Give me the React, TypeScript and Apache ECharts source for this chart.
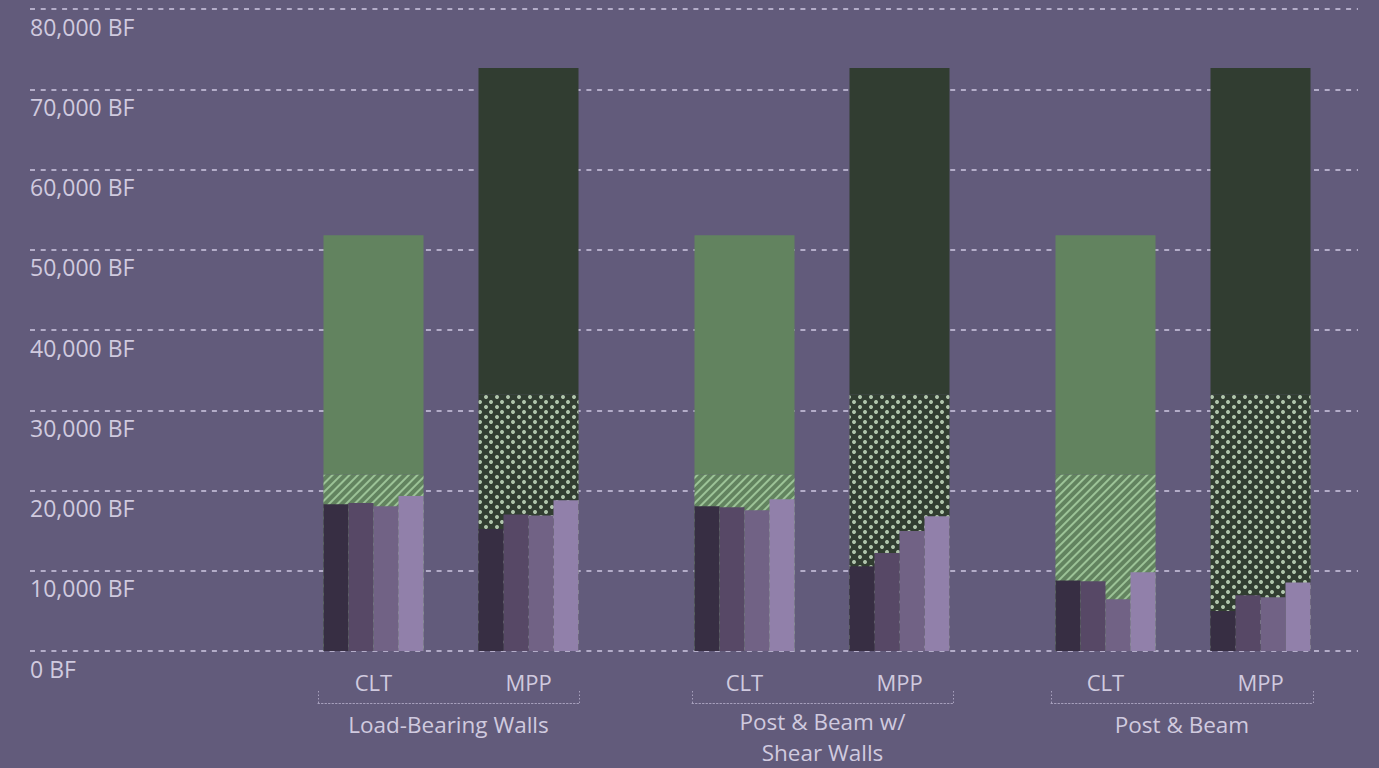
import React, { useEffect, useRef } from "react";
import * as echarts from "echarts";

// ---------- data ----------
const groupNames = ["Load-Bearing Walls", "Post & Beam w/\nShear Walls", "Post & Beam"];
const systems = ["CLT", "MPP"];
const yTicks = [0, 10000, 20000, 30000, 40000, 50000, 60000, 70000, 80000];

// total board feet per system (same for each structural scheme)
const totalBF = [51800, 72650];
// portion drawn with pattern (bottom of the tall bar)
const patternBF = [22000, 32000];

// four inner bars per system, per structural scheme
const lbwCLT = [18300, 18450, 18050, 19300];
const lbwMPP = [15200, 17000, 16900, 18800];
const pbsCLT = [18050, 17900, 17550, 18900];
const pbsMPP = [10550, 12200, 14950, 16800];
const pbCLT = [8800, 8700, 6450, 9800];
const pbMPP = [5000, 6950, 6700, 8550];

const groupData = [
  [lbwCLT, lbwMPP],
  [pbsCLT, pbsMPP],
  [pbCLT, pbMPP],
];

// ---------- styles ----------
const BG = "#625b7b";
const TEXT = "#d0cadf";
const GRID = "#b4adc9";
const BRACKET = "#a7a0bd";
const FONT = "'Open Sans', sans-serif";
const topColors = ["#62835f", "#313d31"];
const smallColors = ["#372e43", "#574866", "#716285", "#9180aa"];

const stripeDecal = {
  symbol: "rect",
  symbolSize: 1,
  dashArrayX: [1, 0],
  dashArrayY: [2, 4],
  rotation: -Math.PI / 4,
  color: "#9cc397",
};
const dotDecal = {
  symbol: "circle",
  symbolSize: 1,
  dashArrayX: [[4, 7], [0, 5, 4, 2]],
  dashArrayY: [4, 1],
  color: "#b1c6ad",
};
const decals = [stripeDecal, dotDecal];

const barGridLeft = [296, 667, 1028];
const bracketLeft = [318, 692, 1051];
const bracketWidth = [261, 261, 262];

export default function App() {
  const ref = useRef<HTMLDivElement>(null);

  useEffect(() => {
    document.body.style.margin = "0";
    if (!ref.current) return;
    const chart = echarts.init(ref.current, undefined, { renderer: "svg" });

    const grid: any[] = [{ left: 30, right: 21, top: 9, bottom: 117 }];
    const xAxis: any[] = [{ type: "value", gridIndex: 0, show: false, min: 0, max: 1 }];
    const yAxis: any[] = [
      {
        type: "value",
        gridIndex: 0,
        min: yTicks[0],
        max: yTicks[yTicks.length - 1],
        interval: yTicks[1] - yTicks[0],
        axisLine: { show: false },
        axisTick: { show: false },
        axisLabel: {
          inside: true,
          margin: 0,
          color: TEXT,
          fontFamily: FONT,
          fontSize: 23,
          verticalAlign: "top",
          lineHeight: 35,
          formatter: (v: number) => v.toLocaleString("en-US") + " BF",
        },
        splitLine: { lineStyle: { color: GRID, width: 2, type: [5, 5.7] } },
      },
    ];
    const series: any[] = [];

    groupNames.forEach((_, g) => {
      grid.push({ left: barGridLeft[g], width: 310, top: 9, bottom: 117 });
      const gi = grid.length - 1;
      const outerX = xAxis.length;
      xAxis.push({
        type: "category",
        gridIndex: gi,
        position: "bottom",
        data: systems,
        axisLine: { show: false },
        axisTick: { show: false },
        axisLabel: { color: TEXT, fontFamily: FONT, fontSize: 22, margin: 20 },
      });
      const innerX = xAxis.length;
      xAxis.push({ type: "category", gridIndex: gi, position: "bottom", data: systems, show: false });
      const yi = yAxis.length;
      yAxis.push({ type: "value", gridIndex: gi, min: 0, max: 80000, show: false });

      series.push({
        type: "bar",
        xAxisIndex: outerX,
        yAxisIndex: yi,
        stack: "outer" + g,
        barWidth: 100,
        silent: true,
        data: patternBF.map((v, i) => ({
          value: v,
          itemStyle: { color: topColors[i], decal: decals[i] },
        })),
      });
      series.push({
        type: "bar",
        xAxisIndex: outerX,
        yAxisIndex: yi,
        stack: "outer" + g,
        barWidth: 100,
        silent: true,
        data: totalBF.map((v, i) => ({
          value: v - patternBF[i],
          itemStyle: { color: topColors[i] },
        })),
      });
      for (let k = 0; k < 4; k++) {
        series.push({
          type: "bar",
          xAxisIndex: innerX,
          yAxisIndex: yi,
          barWidth: 25,
          barGap: "0%",
          silent: true,
          itemStyle: { color: smallColors[k] },
          data: systems.map((_, s) => groupData[g][s][k]),
        });
      }
    });

    const nameStyle = {
      color: TEXT,
      fontFamily: FONT,
      fontSize: 22.5,
      lineHeight: 30,
      verticalAlign: "top",
    };

    groupNames.forEach((name, g) => {
      grid.push({ left: bracketLeft[g], width: bracketWidth[g], top: 690, height: 13 });
      const gi = grid.length - 1;
      const lines = name.split("\n");
      const multi = lines.length > 1;
      lines.forEach((line, li) => {
        const first = li === 0;
        xAxis.push({
          type: "value",
          gridIndex: gi,
          position: "bottom",
          offset: 0,
          min: 0,
          max: 1,
          interval: 1,
          name: line,
          nameLocation: "middle",
          nameGap: multi ? 3 + li * 31 : 6,
          nameTextStyle: nameStyle,
          axisLine: {
            show: first,
            lineStyle: { color: BRACKET, width: 1, type: [1.5, 2] },
          },
          axisTick: {
            show: first,
            inside: true,
            length: 13,
            lineStyle: { color: BRACKET, width: 1, type: [1.5, 2] },
          },
          axisLabel: { show: false },
          splitLine: { show: false },
        });
      });
      yAxis.push({ type: "value", gridIndex: gi, min: 0, max: 1, show: false });
    });

    chart.setOption({
      animation: false,
      backgroundColor: BG,
      grid,
      xAxis,
      yAxis,
      series,
    });

    return () => chart.dispose();
  }, []);

  return <div ref={ref} style={{ width: 1379, height: 768 }} />;
}
